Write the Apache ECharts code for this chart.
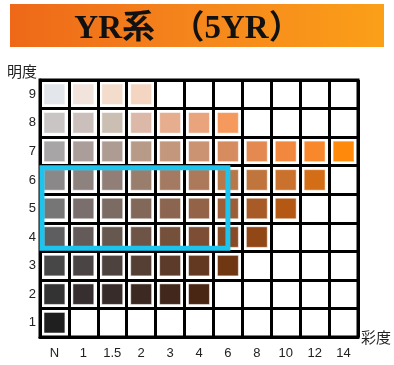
<!DOCTYPE html>
<html>
<head>
<meta charset="utf-8">
<script src="https://cdn.jsdelivr.net/npm/echarts@6/dist/echarts.min.js"></script>
<style>
  html, body { margin: 0; padding: 0; background: #fff; }
  #chart { width: 394px; height: 365px; }
</style>
</head>
<body>
<div id="chart"></div>
<script>
// 彩度 (chroma) categories, 明度 (value) categories
const chromaList = ['N', '1', '1.5', '2', '3', '4', '6', '8', '10', '12', '14']
const valueList = ['1', '2', '3', '4', '5', '6', '7', '8', '9']

// colour chips per value row, from N upwards
const row9 = ['#e3e6ea', '#f2e3dc', '#f4dccd', '#f3d5c2']
const row8 = ['#c9c5c5', '#cbbfbb', '#cbbfb4', '#dcb8a8', '#e6ad8f', '#e9a47e', '#f5995c']
const row7 = ['#a8a5a6', '#ab9e9a', '#ae9c93', '#b79a88', '#c3977c', '#cc9372', '#d68c5e', '#e48a50', '#f1883e', '#f9882c', '#fe890a']
const row6 = ['#8b8889', '#8e827e', '#917f77', '#997d6d', '#a47b62', '#ac795a', '#b67749', '#bf753c', '#ca712e', '#d46e16']
const row5 = ['#777676', '#7a6f6c', '#7c6b63', '#826859', '#8b654f', '#936247', '#9d5e37', '#a85a27', '#b45814']
const row4 = ['#5e5e61', '#645a59', '#66574f', '#6d5446', '#75513c', '#7d4e33', '#874b25', '#914716']
const row3 = ['#474748', '#4b4445', '#4d423d', '#553e34', '#5c3b2b', '#643922', '#6f3712']
const row2 = ['#333334', '#372f2f', '#382c2a', '#3c2a22', '#42281c', '#492514']
const row1 = ['#1f1f20']

// highlighted block: chroma N .. 6 (to middle of the 6 column), value 6 .. 4
const frameChroma = ['N', '6']
const frameValue = ['6', '4']

const rows = [row1, row2, row3, row4, row5, row6, row7, row8, row9]
const chipData = []
rows.forEach((row, yi) => {
  row.forEach((color, xi) => {
    chipData.push({ value: [xi, yi], itemStyle: { color: color } })
  })
})

// numeric-looking category names would be read as indices, so pass indices
const frameData = [[
  chromaList.indexOf(frameChroma[0]),
  valueList.indexOf(frameValue[0]),
  chromaList.indexOf(frameChroma[1]),
  valueList.indexOf(frameValue[1])
]]

const chart = echarts.init(document.getElementById('chart'))

const option = {
  backgroundColor: '#fff',
  animation: false,
  graphic: [
    {
      type: 'rect',
      shape: { x: 10, y: 4, width: 374, height: 43 },
      style: {
        fill: new echarts.graphic.LinearGradient(0, 0, 1, 0, [
          { offset: 0, color: '#ee6818' },
          { offset: 0.5, color: '#f5861c' },
          { offset: 1, color: '#fb9f18' }
        ])
      },
      z: 1
    },
    {
      type: 'text',
      x: 188,
      y: 29,
      style: {
        text: 'YR系　（5YR）',
        fill: '#111',
        font: 'bold 33px "Liberation Serif", "Noto Sans CJK JP", serif',
        textAlign: 'center',
        textVerticalAlign: 'middle'
      },
      z: 2
    }
  ],
  grid: {
    left: 40,
    right: 33,
    top: 80,
    bottom: 28,
    show: true,
    borderColor: '#000',
    borderWidth: 3
  },
  xAxis: {
    type: 'category',
    data: chromaList,
    name: '彩度',
    nameLocation: 'end',
    nameGap: 3,
    nameTextStyle: {
      color: '#222',
      fontSize: 15,
      fontFamily: '"Noto Sans CJK JP", sans-serif',
      verticalAlign: 'middle',
      padding: [16, 0, 0, 0]
    },
    axisLine: { show: true, lineStyle: { color: '#000', width: 3 } },
    axisTick: { show: false },
    axisLabel: {
      color: '#222',
      fontSize: 13,
      fontFamily: '"Liberation Sans", Arial, sans-serif',
      margin: 10
    },
    splitLine: { show: true, interval: 0, lineStyle: { color: '#000', width: 3 } }
  },
  yAxis: {
    type: 'category',
    data: valueList,
    name: '明度',
    nameLocation: 'end',
    nameGap: 9,
    nameTextStyle: {
      color: '#222',
      fontSize: 15,
      fontFamily: '"Noto Sans CJK JP", sans-serif',
      align: 'right',
      verticalAlign: 'middle',
      padding: [0, 3, 0, 0]
    },
    axisLine: { show: true, lineStyle: { color: '#000', width: 3 } },
    axisTick: { show: false },
    axisLabel: {
      color: '#222',
      fontSize: 13,
      fontFamily: '"Liberation Sans", Arial, sans-serif',
      margin: 4
    },
    splitLine: { show: true, interval: 0, lineStyle: { color: '#000', width: 3 } }
  },
  series: [
    {
      type: 'custom',
      name: 'chips',
      data: chipData,
      renderItem: (params, api) => {
        const p = api.coord([api.value(0), api.value(1)])
        const size = api.size([1, 1])
        const w = size[0] - 8
        const h = size[1] - 8
        return {
          type: 'rect',
          shape: { x: p[0] - w / 2, y: p[1] - h / 2, width: w, height: h },
          style: {
            fill: api.visual('color'),
            stroke: 'rgba(255,255,255,0.5)',
            lineWidth: 1
          }
        }
      },
      z: 2
    },
    {
      type: 'custom',
      name: 'frame',
      data: frameData,
      renderItem: (params, api) => {
        const a = api.coord([api.value(0), api.value(1)])
        const b = api.coord([api.value(2), api.value(3)])
        const size = api.size([1, 1])
        const x0 = a[0] - size[0] / 2 + 2
        const y0 = a[1] - size[1] / 2 + 2
        const x1 = b[0]
        const y1 = b[1] + size[1] / 2 - 3
        return {
          type: 'rect',
          shape: { x: x0, y: y0, width: x1 - x0, height: y1 - y0 },
          style: { fill: 'none', stroke: '#1cc4ee', lineWidth: 5 }
        }
      },
      z: 5
    }
  ]
}

chart.setOption(option)
</script>
</body>
</html>
